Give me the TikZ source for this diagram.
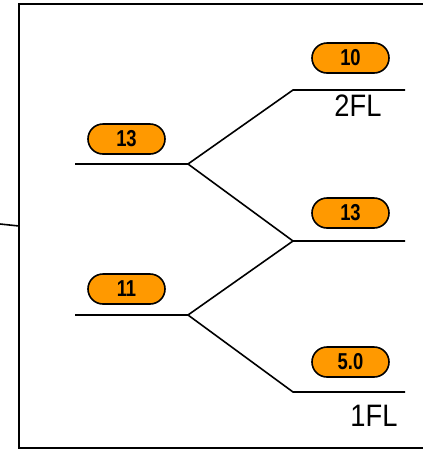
\documentclass[tikz,border=0pt]{standalone}
\usepackage{fontspec}
\setmainfont{Liberation Sans}
\newfontfamily\pillfont[FakeStretch=0.8]{Liberation Sans}
\newfontfamily\flfont[FakeStretch=0.88]{Liberation Sans}
\usetikzlibrary{shapes.misc}
\definecolor{pillorange}{RGB}{255,153,0}
\begin{document}
\begin{tikzpicture}[x=1pt,y=-1pt,
  pill/.style={rounded rectangle, draw=black, line width=1.6pt, fill=pillorange,
    minimum width=77pt, minimum height=30pt, inner sep=0pt,
    font=\pillfont\bfseries\fontsize{23}{23}\selectfont},
  wire/.style={line width=1.6pt, black},
  fl/.style={font=\flfont\fontsize{31}{31}\selectfont, inner sep=0pt}]
\useasboundingbox (0,0) rectangle (423,451);
% frame
\draw[wire] (440,4) -- (19,4) -- (19,448) -- (440,448);
\coordinate (stubL) at (0,224);
\coordinate (stubR) at (19,226);
\draw[wire] (stubL) -- (stubR);
% coordinates
\coordinate (a1) at (75,164); \coordinate (j1) at (188,164);
\coordinate (a2) at (75,315); \coordinate (j2) at (188,315);
\coordinate (r1) at (293,90);  \coordinate (e1) at (405,90);
\coordinate (r2) at (293,241); \coordinate (e2) at (405,241);
\coordinate (r3) at (293,392); \coordinate (e3) at (405,392);
\draw[wire] (a1) -- (j1) -- (r1) -- (e1);
\draw[wire] (j1) -- (r2) -- (e2);
\draw[wire] (a2) -- (j2) -- (r2);
\draw[wire] (j2) -- (r3) -- (e3);
% pills
\node[pill] (p1) at (126.5,139) {13};
\node[pill] (p2) at (126.5,289) {11};
\node[pill] (p3) at (350.5,58) {10};
\node[pill] (p4) at (350.5,213) {13};
\node[pill] (p5) at (350.5,362) {5.0};
% labels
\node[fl] (t2) at (358,106) {2FL};
\node[fl] (t1) at (374,416) {1FL};
\end{tikzpicture}
\end{document}
